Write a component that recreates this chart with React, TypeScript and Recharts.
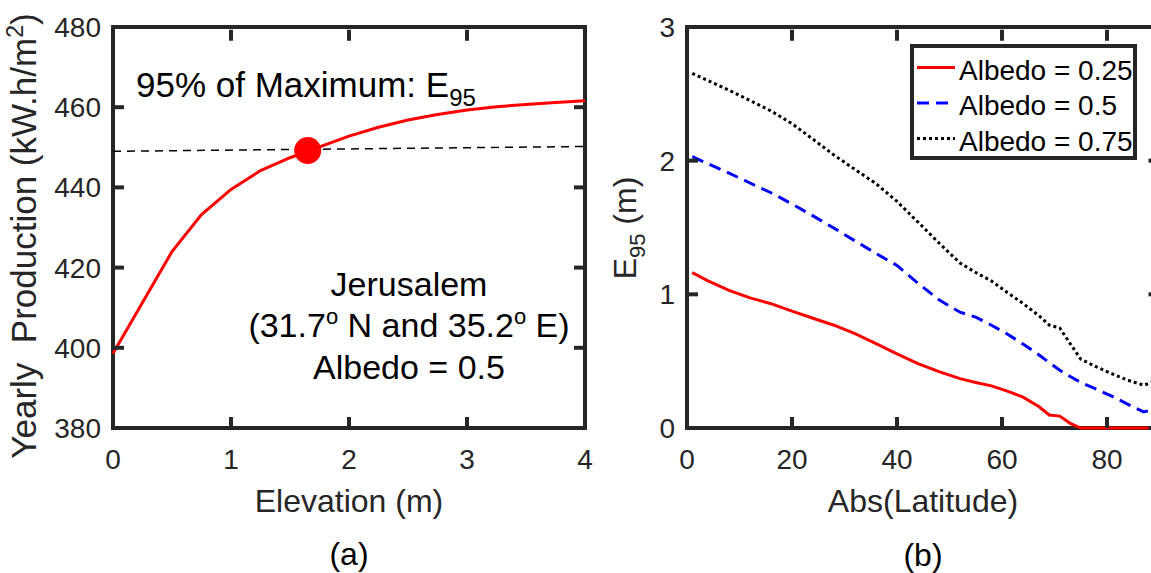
import React from 'react';
import { LineChart, Line, XAxis, YAxis, ReferenceLine, ReferenceDot, Legend } from 'recharts';

const AXIS = '#262626';
const FONT = '"Liberation Sans", Arial, Helvetica, sans-serif';

// both panels share the same plot box height (27 -> 428)
const PLOT_HEIGHT = 401;
const TICK_LEN = 11;

// (a) yearly production against elevation, Jerusalem, albedo 0.5
const elevation = [0, 0.5, 0.75, 1, 1.25, 1.5, 1.75, 2, 2.25, 2.5, 2.75, 3, 3.25, 3.5, 3.75, 4];
const production = [398.6, 424.0, 433.2, 439.5, 444.2, 447.4, 450.1, 452.8, 455.0, 456.8, 458.2, 459.3, 460.1, 460.7, 461.2, 461.6];
const e95Point = { x: 1.65, y: 449.2 };
const e95Level = [{ x: 0, y: 449.0 }, { x: 4, y: 450.2 }];
const elevationTicks = [0, 1, 2, 3, 4];
const productionTicks = [380, 400, 420, 440, 460, 480];
const productionDomain = [380, 480];

// (b) E95 against absolute latitude for three albedo values
const latitude = [1, 4, 8, 12, 16, 20, 24, 28, 32, 36, 40, 44, 48, 52, 55, 58, 61, 64, 67, 69, 71, 73, 75, 78, 81, 84, 87, 90];
const e95Albedo25 = [1.162, 1.101, 1.03, 0.973, 0.93, 0.874, 0.821, 0.769, 0.706, 0.632, 0.555, 0.481, 0.422, 0.369, 0.341, 0.315, 0.276, 0.231, 0.161, 0.097, 0.089, 0.035, 0, 0, 0, 0, 0, 0];
const e95Albedo50 = [2.03, 1.977, 1.907, 1.833, 1.76, 1.676, 1.587, 1.495, 1.4, 1.306, 1.216, 1.083, 0.959, 0.866, 0.829, 0.769, 0.703, 0.628, 0.548, 0.489, 0.432, 0.385, 0.341, 0.29, 0.236, 0.177, 0.12, 0.15];
const e95Albedo75 = [2.653, 2.599, 2.527, 2.45, 2.372, 2.277, 2.16, 2.042, 1.934, 1.828, 1.695, 1.54, 1.384, 1.234, 1.163, 1.1, 1.014, 0.932, 0.841, 0.77, 0.748, 0.63, 0.515, 0.457, 0.405, 0.357, 0.32, 0.36];
const latitudeTicks = [0, 20, 40, 60, 80];
const e95Ticks = [0, 1, 2, 3];
const e95Domain = [0, 3];

const productionData = elevation.map((e, i) => ({ elevation: e, production: production[i] }));
const latitudeData = latitude.map((lat, i) => ({
  latitude: lat,
  a25: e95Albedo25[i],
  a50: e95Albedo50[i],
  a75: e95Albedo75[i],
}));

const albedoSeries = [
  { key: 'a25', name: 'Albedo = 0.25', color: '#ff0000', dash: undefined, width: 3 },
  { key: 'a50', name: 'Albedo = 0.5', color: '#0000ff', dash: '12 7', width: 3 },
  { key: 'a75', name: 'Albedo = 0.75', color: '#000000', dash: '3 3', width: 3 },
];

const BottomTick = (props: any) => {
  const { x, y, payload } = props;
  return (
    <g>
      <line x1={x} y1={y} x2={x} y2={y - TICK_LEN} stroke={AXIS} strokeWidth={4} />
      <text x={x} y={y + 41} textAnchor="middle" fontSize={28} fill={AXIS} fontFamily={FONT}>
        {payload.value}
      </text>
    </g>
  );
};

const LeftTick = (props: any) => {
  const { x, y, payload } = props;
  return (
    <g>
      <line x1={x} y1={y} x2={x + TICK_LEN} y2={y} stroke={AXIS} strokeWidth={4} />
      <text x={x - 12} y={y + 10} textAnchor="end" fontSize={28} fill={AXIS} fontFamily={FONT}>
        {payload.value}
      </text>
    </g>
  );
};

const RightTick = (props: any) => {
  const { x, y } = props;
  return <line x1={x} y1={y} x2={x - TICK_LEN} y2={y} stroke={AXIS} strokeWidth={4} />;
};

// inward marks hanging from the top edge, as short reference segments
function topTicks(ticks: number[], yDomain: number[]) {
  const span = ((yDomain[1] - yDomain[0]) * TICK_LEN) / PLOT_HEIGHT;
  const top = yDomain[1] - 0.25 * span;
  return ticks.map((t) => (
    <ReferenceLine
      key={`top-${t}`}
      segment={[{ x: t, y: top }, { x: t, y: top - span }]}
      ifOverflow="visible"
      stroke={AXIS}
      strokeWidth={4}
    />
  ));
}

const axisLine = { stroke: AXIS, strokeWidth: 4, strokeLinecap: 'square' as const };

// shared props for the sides of a boxed axis frame (1px thick axis bands)
const xAxisFrame = { type: 'number' as const, interval: 0, height: 1, tickSize: 0, tickMargin: 0, tickLine: false, axisLine, zIndex: 300 };
const yAxisFrame = { type: 'number' as const, interval: 0, width: 1, tickSize: 0, tickMargin: 0, tickLine: false, axisLine, zIndex: 300 };

const AlbedoLegend = (props: any) => {
  const payload = props.payload ?? [];
  return (
    <div
      style={{
        width: 227,
        height: 116,
        border: `4px solid ${AXIS}`,
        boxSizing: 'border-box',
        background: '#fff',
      }}
    >
      <svg width={219} height={108} style={{ display: 'block' }}>
        {payload.map((entry: any, i: number) => {
          const s = albedoSeries.find((a) => a.name === entry.value) ?? albedoSeries[i];
          const cy = 19.5 + i * 35.5;
          return (
            <g key={s.key}>
              <line x1={3} x2={41} y1={cy} y2={cy} stroke={s.color} strokeWidth={s.width} strokeDasharray={s.dash} />
              <text x={45} y={cy + 12} fontSize={28} fill="#000" fontFamily={FONT}>
                {entry.value}
              </text>
            </g>
          );
        })}
      </svg>
    </div>
  );
};

export default function App() {
  return (
    <div
      style={{
        position: 'absolute',
        left: 0,
        top: 0,
        width: 1151,
        height: 573,
        overflow: 'hidden',
        background: '#fff',
        fontFamily: FONT,
      }}
    >
      <div style={{ position: 'absolute', left: 0, top: 0 }}>
        <LineChart width={600} height={573} data={productionData} margin={{ top: 26, right: 14, bottom: 144, left: 112 }}>
          <XAxis {...xAxisFrame} dataKey="elevation" domain={[0, 4]} ticks={elevationTicks} tick={BottomTick} />
          <XAxis {...xAxisFrame} xAxisId="top" orientation="top" domain={[0, 4]} allowDataOverflow tick={false} />
          <YAxis {...yAxisFrame} domain={productionDomain} ticks={productionTicks} tick={LeftTick} />
          <YAxis
            {...yAxisFrame}
            yAxisId="right"
            orientation="right"
            domain={productionDomain}
            allowDataOverflow
            ticks={productionTicks}
            tick={RightTick}
          />
          {topTicks(elevationTicks, productionDomain)}
          <ReferenceLine segment={e95Level} stroke="#000" strokeWidth={1.5} strokeDasharray="8 6" />
          <Line
            dataKey="production"
            type="linear"
            stroke="#ff0000"
            strokeWidth={3}
            dot={false}
            isAnimationActive={false}
            zIndex={600}
          />
          <ReferenceDot x={e95Point.x} y={e95Point.y} r={13.5} fill="#ff0000" stroke="none" zIndex={700} />
        </LineChart>
      </div>

      <div style={{ position: 'absolute', left: 580, top: 0 }}>
        <LineChart width={620} height={573} data={latitudeData} margin={{ top: 26, right: 39.5, bottom: 144, left: 106 }}>
          <XAxis {...xAxisFrame} dataKey="latitude" domain={[0, 90]} ticks={latitudeTicks} tick={BottomTick} />
          <XAxis {...xAxisFrame} xAxisId="top" orientation="top" domain={[0, 90]} allowDataOverflow tick={false} />
          <YAxis {...yAxisFrame} domain={e95Domain} ticks={e95Ticks} tick={LeftTick} />
          <YAxis
            {...yAxisFrame}
            yAxisId="right"
            orientation="right"
            domain={e95Domain}
            allowDataOverflow
            ticks={e95Ticks}
            tick={RightTick}
          />
          {topTicks(latitudeTicks, e95Domain)}
          {albedoSeries.map((s) => (
            <Line
              key={s.key}
              dataKey={s.key}
              name={s.name}
              type="linear"
              stroke={s.color}
              strokeWidth={s.width}
              strokeDasharray={s.dash}
              dot={false}
              isAnimationActive={false}
              zIndex={600}
            />
          ))}
          <Legend
            layout="vertical"
            align="center"
            verticalAlign="middle"
            content={AlbedoLegend}
            wrapperStyle={{ left: 330, top: 44, width: 227, height: 116 }}
          />
        </LineChart>
      </div>

      <svg
        width={1151}
        height={573}
        style={{ position: 'absolute', left: 0, top: 0, pointerEvents: 'none' }}
        fontFamily={FONT}
      >
        {/* axis titles */}
        <text x={36} y={236} transform="rotate(-90 36 236)" textAnchor="middle" fontSize={35} fill={AXIS}>
          {'Yearly \u00A0Production (kW.h/m'}
          <tspan dy={-13} fontSize={23}>2</tspan>
          <tspan dy={13}>)</tspan>
        </text>
        <text x={349} y={512} textAnchor="middle" fontSize={32} fill={AXIS}>Elevation (m)</text>
        <text x={349} y={565} textAnchor="middle" fontSize={32} fill="#000">(a)</text>

        <text x={636} y={228} transform="rotate(-90 636 228)" textAnchor="middle" fontSize={32} fill={AXIS}>
          E<tspan dy={9} fontSize={22}>95</tspan>
          <tspan dy={-9}>{'\u00A0(m)'}</tspan>
        </text>
        <text x={923} y={512} textAnchor="middle" fontSize={32} fill={AXIS}>Abs(Latitude)</text>
        <text x={923} y={566} textAnchor="middle" fontSize={32} fill="#000">(b)</text>

        {/* annotations inside panel (a) */}
        <text x={136} y={97} fontSize={35} fill="#000">
          {'95% of Maximum: E'}
          <tspan dy={9} fontSize={24}>95</tspan>
        </text>
        <text x={409} y={296} textAnchor="middle" fontSize={34} fill="#000">Jerusalem</text>
        <text x={409} y={337} textAnchor="middle" fontSize={34} fill="#000">
          {'(31.7'}
          <tspan dy={-13} fontSize={22}>o</tspan>
          <tspan dy={13}>{' N and 35.2'}</tspan>
          <tspan dy={-13} fontSize={22}>o</tspan>
          <tspan dy={13}>{' E)'}</tspan>
        </text>
        <text x={409} y={379} textAnchor="middle" fontSize={34} fill="#000">Albedo = 0.5</text>
      </svg>
    </div>
  );
}
